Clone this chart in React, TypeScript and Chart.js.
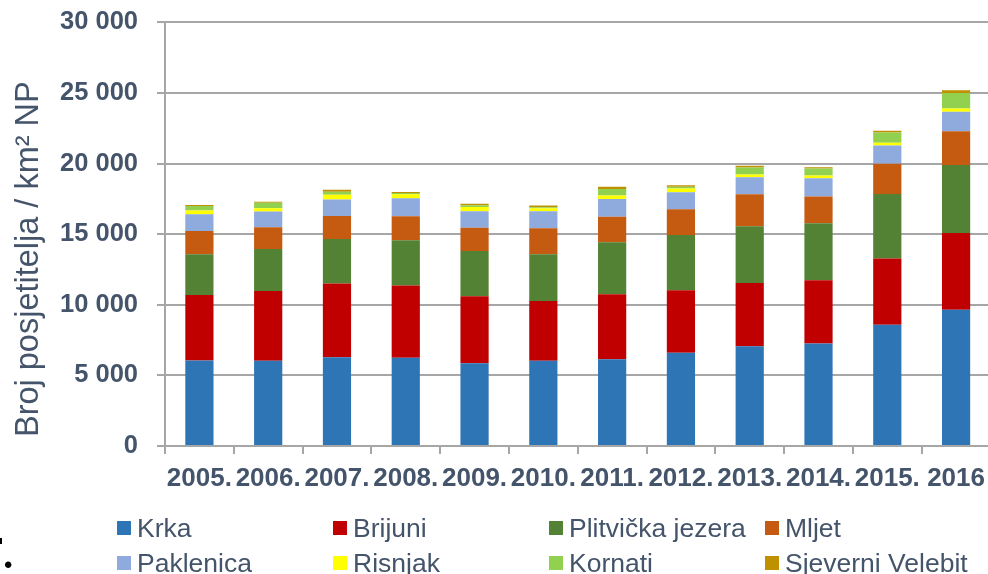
import React, { useEffect, useRef } from 'react';
import { Chart, registerables } from 'chart.js';

Chart.register(...registerables);

const years = ['2005.', '2006.', '2007.', '2008.', '2009.', '2010.', '2011.', '2012.', '2013.', '2014.', '2015.', '2016'];

const krka = [6050, 6030, 6290, 6240, 5860, 6030, 6150, 6600, 7070, 7260, 8580, 9650];
const brijuni = [4640, 4940, 5220, 5130, 4750, 4230, 4590, 4420, 4470, 4470, 4700, 5430];
const plitvice = [2880, 2980, 3140, 3190, 3190, 3310, 3690, 3920, 4020, 4040, 4560, 4820];
const mljet = [1660, 1540, 1630, 1700, 1660, 1850, 1800, 1820, 2270, 1890, 2150, 2390];
const paklenica = [1180, 1110, 1180, 1280, 1160, 1200, 1250, 1210, 1200, 1300, 1280, 1370];
const risnjak = [260, 240, 330, 280, 310, 210, 260, 260, 190, 190, 210, 240];
const kornati = [330, 380, 210, 100, 120, 70, 450, 120, 500, 500, 710, 1090];
const sjeverniVelebit = [70, 70, 140, 70, 100, 120, 160, 120, 120, 90, 140, 190];

const seriesNames = ['Krka', 'Brijuni', 'Plitvička jezera', 'Mljet', 'Paklenica', 'Risnjak', 'Kornati', 'Sjeverni Velebit'];
const seriesData = [krka, brijuni, plitvice, mljet, paklenica, risnjak, kornati, sjeverniVelebit];
const seriesColors = ['#2E75B6', '#C00000', '#548235', '#C55A11', '#8FAADC', '#FFFF00', '#92D050', '#BF9000'];

const yTitle = 'Broj posjetitelja / km² NP';
const yMin = 0;
const yMax = 30000;
const yStep = 5000;

const FONT = "'Liberation Sans', Arial, sans-serif";
const TEXT = '#44546A';
const GRID = '#A6A6A6';

const CANVAS_W = 994;
const CANVAS_H = 586;
const CANVAS_TOP = -12;

const formatThousands = (v: number) => String(Math.round(v)).replace(/\B(?=(\d{3})+(?!\d))/g, ' ');

const yTitlePlugin = {
  id: 'yTitlePlugin',
  afterDraw(chart: any) {
    const { ctx, chartArea } = chart;
    ctx.save();
    ctx.translate(38, (chartArea.top + chartArea.bottom) / 2 + 25);
    ctx.rotate(-Math.PI / 2);
    ctx.font = `32.5px ${FONT}`;
    ctx.fillStyle = TEXT;
    ctx.textAlign = 'center';
    ctx.textBaseline = 'alphabetic';
    ctx.fillText(yTitle, 0, 0);
    ctx.restore();
  },
};

export default function App() {
  const ref = useRef<HTMLCanvasElement | null>(null);

  useEffect(() => {
    if (!ref.current) return;
    const chart = new Chart(ref.current, {
      type: 'bar',
      data: {
        labels: years,
        datasets: seriesNames.map((name, i) => ({
          label: name,
          data: seriesData[i],
          backgroundColor: seriesColors[i],
          borderWidth: 0,
          categoryPercentage: 1,
          barPercentage: 0.41,
        })),
      },
      options: {
        animation: false,
        responsive: false,
        maintainAspectRatio: false,
        layout: { padding: { top: 0, right: 0, bottom: 70.8, left: 0 } },
        plugins: {
          legend: { display: false },
          tooltip: { enabled: false },
          title: { display: false },
        },
        scales: {
          x: {
            stacked: true,
            grid: {
              display: true,
              drawOnChartArea: false,
              offset: true,
              tickLength: 8,
              color: GRID,
              lineWidth: 2,
            },
            border: { display: true, color: GRID, width: 2 },
            ticks: {
              font: { family: FONT, size: 26, weight: 'bold' },
              color: TEXT,
              padding: 9,
              maxRotation: 0,
              autoSkip: false,
            },
          },
          y: {
            stacked: true,
            min: yMin,
            max: yMax,
            afterFit: (s: any) => {
              s.width = 165;
            },
            grid: { color: GRID, lineWidth: 2, tickLength: 8 },
            border: { display: true, color: GRID, width: 2 },
            ticks: {
              stepSize: yStep,
              padding: 19,
              font: { family: FONT, size: 25.5, weight: 'bold' },
              color: TEXT,
              callback: (v: any) => formatThousands(Number(v)),
            },
          },
        },
      },
      plugins: [yTitlePlugin],
    });
    return () => chart.destroy();
  }, []);

  const colX = [117, 333, 549, 765];
  const rowY = [528, 563];

  return (
    <div
      style={{
        position: 'fixed',
        left: 0,
        top: 0,
        width: 988,
        height: 574,
        overflow: 'hidden',
        background: '#fff',
        fontFamily: FONT,
      }}
    >
      <canvas
        ref={ref}
        width={CANVAS_W}
        height={CANVAS_H}
        style={{ position: 'absolute', left: 0, top: CANVAS_TOP, width: CANVAS_W, height: CANVAS_H }}
      />
      {seriesNames.map((name, i) => {
        const x = colX[i % 4];
        const y = rowY[Math.floor(i / 4)];
        return (
          <div key={name} style={{ position: 'absolute', left: x, top: y - 16, height: 32, display: 'flex', alignItems: 'center', whiteSpace: 'nowrap' }}>
            <span style={{ display: 'inline-block', width: 14, height: 14, background: seriesColors[i], marginRight: 6 }} />
            <span style={{ fontSize: 26.5, color: TEXT, lineHeight: '32px' }}>{name}</span>
          </div>
        );
      })}
      <div style={{ position: 'absolute', left: 0, top: 538, width: 2, height: 6, background: '#000' }} />
      <div style={{ position: 'absolute', left: 4, top: 551, fontSize: 24, color: '#000', lineHeight: '28px' }}>•</div>
    </div>
  );
}
